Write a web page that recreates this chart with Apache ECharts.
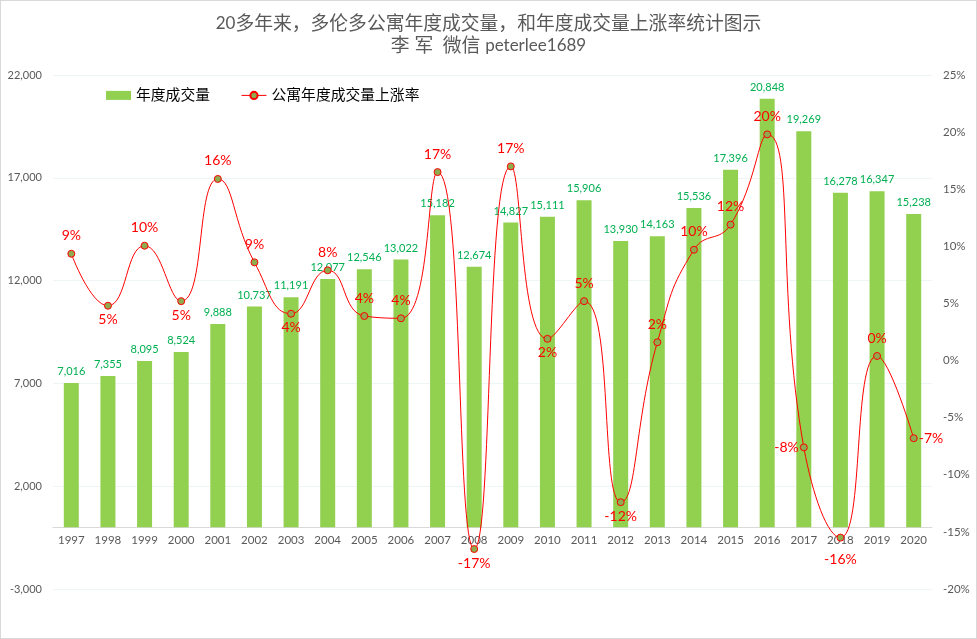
<!DOCTYPE html>
<html>
<head>
<meta charset="utf-8">
<title>多伦多公寓年度成交量</title>
<style>
html, body { margin: 0; padding: 0; background: #fff; }
#main { width: 977px; height: 639px; outline: 1px solid #d9d9d9; outline-offset: -1px; }
</style>
<script src="https://cdn.jsdelivr.net/npm/echarts@6/dist/echarts.min.js"></script>
</head>
<body>
<div id="main"></div>
<script>
var years = ['1997', '1998', '1999', '2000', '2001', '2002', '2003', '2004', '2005', '2006', '2007', '2008',
    '2009', '2010', '2011', '2012', '2013', '2014', '2015', '2016', '2017', '2018', '2019', '2020'];
var sales = [7016, 7355, 8095, 8524, 9888, 10737, 11191, 12077, 12546, 13022, 15182, 12674,
    14827, 15111, 15906, 13930, 14163, 15536, 17396, 20848, 19269, 16278, 16347, 15238];
var rates = [9.35, 4.8, 10.05, 5.2, 15.9, 8.6, 4.1, 7.9, 3.9, 3.7, 16.5, -16.5,
    17, 1.9, 5.2, -12.4, 1.6, 9.7, 11.9, 19.8, -7.6, -15.5, 0.4, -6.8];
var salesTicks = [-3000, 2000, 7000, 12000, 17000, 22000];
var labelsBelow = ['1998', '2000', '2003', '2008', '2010', '2012', '2018'];
var labelsLeft = ['2017'];
var labelsRight = ['2020'];
var labelsFar = ['2018'];

var font = 'Lato, "Noto Sans CJK SC", sans-serif';

function ratePoint(value, i) {
    var pos = 'top', dist = 7;
    if (labelsBelow.indexOf(years[i]) >= 0) { pos = 'bottom'; dist = 3; }
    if (labelsLeft.indexOf(years[i]) >= 0) { pos = 'left'; dist = 1; }
    if (labelsRight.indexOf(years[i]) >= 0) { pos = 'right'; dist = 1; }
    if (labelsFar.indexOf(years[i]) >= 0) dist = 11;
    return { value: value, label: { position: pos, distance: dist } };
}

var myChart = echarts.init(document.getElementById('main'));

var option = {
    animation: false,
    textStyle: { fontFamily: font },
    title: {
        text: '{l|20}多年来，多伦多公寓年度成交量，和年度成交量上涨率统计图示\n李 军  微信 {l|peterlee1689}',
        left: 'center',
        top: 8,
        textStyle: {
            fontFamily: font,
            fontSize: 18.8,
            fontWeight: 'normal',
            color: '#595959',
            lineHeight: 22,
            rich: { l: { fontFamily: font, fontSize: 17, color: '#595959', lineHeight: 22 } }
        }
    },
    legend: {
        left: 106,
        top: 88,
        padding: 0,
        itemGap: 31,
        itemWidth: 25,
        itemHeight: 9,
        lineStyle: { width: 1 },
        textStyle: { fontFamily: font, fontSize: 14.8, color: '#000' },
        data: [{ name: '年度成交量', icon: 'rect' }, '公寓年度成交量上涨率']
    },
    grid: { left: 53, right: 45, top: 75, bottom: 50 },
    xAxis: {
        type: 'category',
        data: years,
        axisTick: { show: false },
        axisLine: { lineStyle: { color: '#d9d9d9', width: 1 } },
        axisLabel: { color: '#595959', fontSize: 11.5, margin: -54, interval: 0 }
    },
    yAxis: [{
        type: 'value',
        min: -3000,
        max: 22000,
        axisLine: { show: false },
        axisTick: { show: false, customValues: salesTicks },
        axisLabel: {
            customValues: salesTicks,
            color: '#595959',
            fontSize: 11,
            margin: 11,
            formatter: function (v) { return echarts.format.addCommas(v); }
        },
        splitLine: { show: true, lineStyle: { color: '#eef5f7', width: 1 } }
    }, {
        type: 'value',
        min: -20,
        max: 25,
        interval: 5,
        axisLine: { show: false },
        axisTick: { show: false },
        axisLabel: { color: '#595959', fontSize: 11.5, margin: 11, formatter: '{value}%' },
        splitLine: { show: false }
    }],
    series: [{
        name: '年度成交量',
        type: 'bar',
        data: sales,
        barWidth: 15,
        itemStyle: { color: '#92D050' },
        label: {
            show: true,
            position: 'top',
            distance: 6,
            color: '#00B050',
            fontSize: 11,
            formatter: function (p) { return echarts.format.addCommas(p.value); }
        }
    }, {
        name: '公寓年度成交量上涨率',
        type: 'line',
        yAxisIndex: 1,
        smooth: 0.5,
        data: rates.map(ratePoint),
        symbol: 'circle',
        symbolSize: 7,
        lineStyle: { color: '#ff0000', width: 1 },
        itemStyle: { color: '#8FAA4F', borderColor: '#ff0000', borderWidth: 1 },
        label: {
            show: true,
            color: '#ff0000',
            fontSize: 14,
            formatter: function (p) { return p.value.toFixed(0) + '%'; }
        },
        z: 3
    }]
};

myChart.setOption(option);
</script>
</body>
</html>
